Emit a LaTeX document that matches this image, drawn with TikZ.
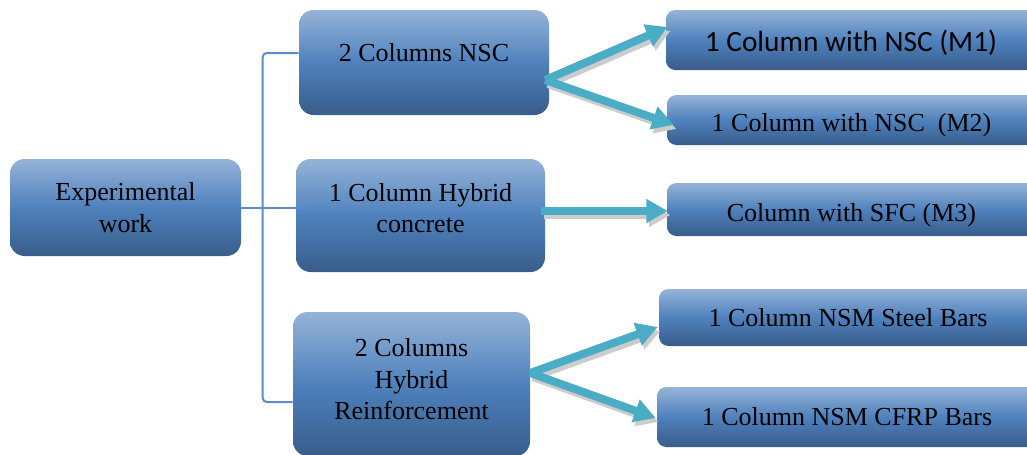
\documentclass[tikz,border=0pt]{standalone}
\usepackage{fontspec}
\setmainfont{Liberation Serif}
\newfontfamily\calibfont{Carlito}
\usetikzlibrary{arrows.meta}
\definecolor{boxtop}{HTML}{95B3D7}
\definecolor{boxmid}{HTML}{4F81BD}
\definecolor{boxbot}{HTML}{385D8A}
\definecolor{flowteal}{HTML}{4BACC6}
\definecolor{linkblue}{HTML}{5B8CC8}

\begin{document}
\begin{tikzpicture}[x=0.75pt,y=-0.75pt,
    box/.style={rounded corners=11pt,top color=boxtop,bottom color=boxbot,middle color=boxmid,
        align=center,inner sep=0pt,font=\fontsize{19.5}{23.5}\selectfont},
    leaf/.style={box,rounded corners=7pt},
    sz/.style 2 args={minimum width=#1*0.75pt,minimum height=#2*0.75pt},
    link/.style={draw=linkblue,line width=1.5pt},
    flow/.style={draw=flowteal,line width=6pt,-{Triangle[length=16pt,width=17pt]},
        preaction={draw=black!20,line width=6pt,-{Triangle[length=16pt,width=17pt]},
            transform canvas={shift={(2pt,-3pt)}}}}]
    \useasboundingbox (0,0) rectangle (1027,454);
    \clip (0,0) rectangle (1027,454);

    % left and middle column
    \node[box,sz={231}{97}] (exp) at (125.5,207.5) {Experimental\\work};
    \node[box,sz={250}{105},text height=14pt,text depth=16pt] (nsc) at (424,62.5) {2 Columns NSC};
    \node[box,sz={249}{113},text depth=11pt] (hyc) at (420.5,215.5) {1 Column Hybrid\\concrete};
    \node[box,sz={237}{144},text depth=7.5pt] (hyr) at (411.5,384) {2 Columns\\Hybrid\\Reinforcement};

    % right column
    \node[leaf,sz={370}{60},font=\calibfont\fontsize{22}{26}\selectfont,text height=21pt,text depth=4.4pt] (m1) at (851,40) {1 Column with NSC (M1)};
    \node[leaf,sz={369}{50},text height=21.5pt,text depth=4.2pt] (m2) at (851.5,120) {1 Column with NSC~ (M2)};
    \node[leaf,sz={369}{53},text height=21.5pt,text depth=4.2pt] (m3) at (851.5,209.5) {Column with SFC (M3)};
    \node[leaf,sz={378}{57}] (stb) at (848,317.5) {1 Column NSM Steel Bars};
    \node[leaf,sz={380}{60}] (cfb) at (847,417) {1 Column NSM CFRP Bars};

    % bracket
    \draw[link,rounded corners=3pt] ([shift={(0,-9.5)}]nsc.west) -- ++(-36,0) |- ([shift={(0,18)}]hyr.west);
    \draw[link] (exp.east) -- (exp.east -| hyc.west) -- ++(12,0);

    % arrows
    \draw[flow] ([shift={(-4,17.5)}]nsc.east) -- ([shift={(2,-13)}]m1.west);
    \draw[flow] ([shift={(-4,17.5)}]nsc.east) -- ([shift={(7,5)}]m2.west);
    \draw[flow] ([shift={(-4,-4.5)}]hyc.east) -- ([shift={(1,1.5)}]m3.west);
    \draw[flow] ([shift={(0,-11)}]hyr.east) -- ([shift={(-1,9.5)}]stb.west);
    \draw[flow] ([shift={(0,-11)}]hyr.east) -- ([shift={(-1,1)}]cfb.west);
\end{tikzpicture}
\end{document}
